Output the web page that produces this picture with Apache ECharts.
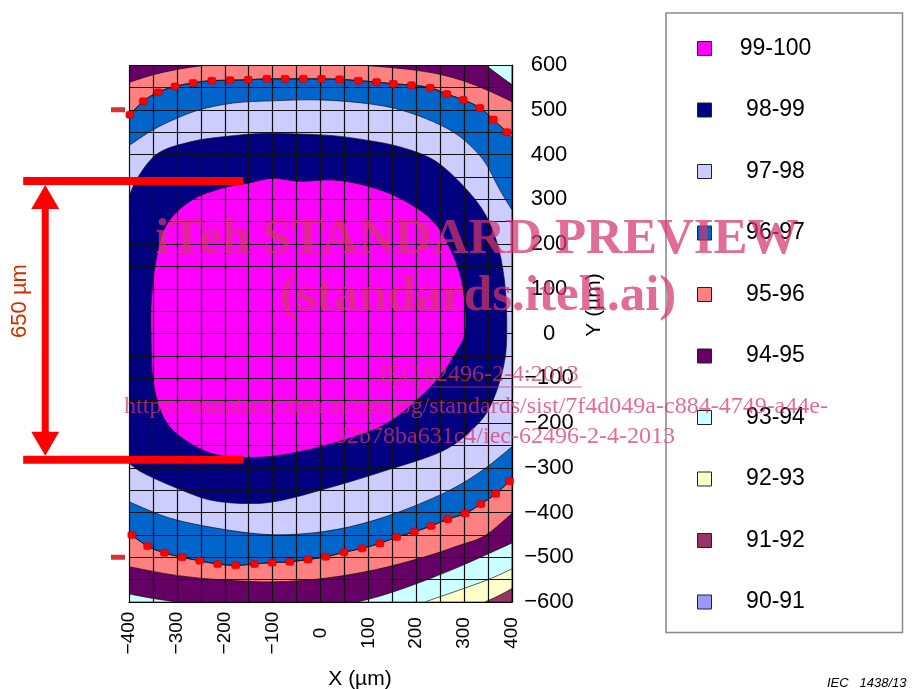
<!DOCTYPE html>
<html><head><meta charset="utf-8">
<script src="https://cdn.jsdelivr.net/npm/echarts@6/dist/echarts.min.js"></script>
<style>html,body{margin:0;padding:0;background:#fff}#c{width:922px;height:689px}</style>
</head><body><div id="c"></div>
<script>
// ---------- data (µm, % levels) ----------
const levels = ['99-100','98-99','97-98','96-97','95-96','94-95','93-94','92-93','91-92','90-91'];
const xTickValues = [-400,-300,-200,-100,0,100,200,300,400];
const yTickValues = [-600,-500,-400,-300,-200,-100,0,100,200,300,400,500,600];

// contour boundaries, [X, Y] in µm
const c92 = [[400,-570],[372,-586],[343,-600]];
const c93 = [[400,-526],[350,-550],[288,-574],[250,-588],[218,-600]];
const c94top = [[345,600],[372,578],[400,556]];
const c94bot = [[400,-468],[345,-495],[288,-522],[235,-545],[183,-566],[130,-585],[78,-600]];
const c94left = [[-300,-600],[-350,-592],[-400,-582]];
const c95a = [[-400,561],[-350,578],[-300,590],[-250,598],[-225,600]];
const c95b = [[80,600],[150,594],[200,588],[250,579],[300,564],[350,543],[400,518]];
const c95c = [[400,-402],[343,-452],[288,-474],[218,-499],[114,-528],[9,-547],[-95,-555],[-200,-551],[-304,-540],[-400,-521]];
const upperDots = [[-398,489],[-370,519],[-339,539],[-304,552],[-266,560],[-227,565],[-189,566],[-151,567],[-112,569],[-74,569],[-36,569],[2,569],[40,568],[79,565],[117,562],[152,558],[190,555],[229,549],[264,535],[298,522],[333,504],[361,478],[389,450]];
const lowerDots = [[-394,-450],[-361,-475],[-326,-490],[-289,-500],[-252,-508],[-215,-515],[-177,-518],[-138,-515],[-101,-512],[-64,-510],[-26,-505],[11,-499],[49,-489],[87,-480],[124,-469],[159,-455],[196,-443],[231,-430],[266,-415],[302,-402],[335,-381],[366,-358],[395,-330]];
const c96top = [[-400,487]].concat(upperDots.slice(1), [[400,437]]);
const c96bot = [[400,-324]].concat(lowerDots.slice(1,-1).reverse(), [[-400,-446]]);
const c97top = [[-400,420],[-350,455],[-300,481],[-252,500],[-182,515],[-99,520],[-2,522],[96,514],[166,500],[236,473],[291,440],[340,388],[375,320],[400,276]];
const c97bot = [[400,-253],[339,-305],[270,-350],[166,-398],[61,-432],[-43,-448],[-147,-446],[-300,-417],[-400,-376]];
const c98 = [[-400,306],[-381,350],[-339,403],[-269,429],[-200,440],[-124,447],[-50,446],[27,442],[96,432],[166,417],[236,388],[298,330],[345,265],[372,190],[386,100],[389,0],[383,-70],[360,-150],[326,-205],[256,-262],[131,-308],[27,-342],[-78,-372],[-147,-380],[-231,-372],[-308,-342],[-370,-312],[-400,-290]];
const c99 = [[-151,336],[-99,347],[-43,340],[27,343],[96,330],[166,302],[236,250],[277,175],[298,100],[303,8],[284,-40],[250,-95],[200,-150],[131,-205],[27,-245],[-78,-271],[-161,-277],[-227,-268],[-283,-238],[-325,-193],[-349,-111],[-354,-7],[-353,82],[-342,172],[-320,246],[-269,298],[-205,325]];
const leftMarks = [[-423,500],[-423,-500]];
// 650 µm dimension: horizontal bars at Y, from X to X, arrow at X
const dimY = [341,-282];
const dimX = [-621,-161];
const dimArrowX = -575;

// ---------- styles ----------
const palette = {'99-100':'#ff00ff','98-99':'#000080','97-98':'#ccccff','96-97':'#0066cc','95-96':'#ff8080','94-95':'#660066','93-94':'#ccffff','92-93':'#ffffcc','91-92':'#993366','90-91':'#9999ff'};
const FONT = "'Liberation Sans', Arial, sans-serif";
const SERIF = "'Liberation Serif', 'Times New Roman', serif";

const TL=[-400,600], TR=[400,600], BR=[400,-600], BL=[-400,-600];
const regions = [
  ['91-92', [[TL],[TR],[BR],[BL]], false],
  ['92-93', [[TL],[TR],c92,[BL]], false],
  ['93-94', [[TL],[TR],c93,[BL]], false],
  ['94-95', [[TL],c94top,c94bot,c94left], false],
  ['95-96', [c95a,c95b,c95c], false],
  ['96-97', [c96top,c96bot], false],
  ['97-98', [c97top,c97bot], false],
  ['98-99', [c98], false],
  ['99-100', [c99], true]
];

function catmull(pts, closed){
  let d=''; const n=pts.length;
  if(n<2) return d;
  const get=i=>closed?pts[(i+n)%n]:pts[Math.max(0,Math.min(n-1,i))];
  const last=closed?n:n-1;
  for(let i=0;i<last;i++){
    const p0=get(i-1),p1=get(i),p2=get(i+1),p3=get(i+2);
    const c1=[p1[0]+(p2[0]-p0[0])/6,p1[1]+(p2[1]-p0[1])/6];
    const c2=[p2[0]-(p3[0]-p1[0])/6,p2[1]-(p3[1]-p1[1])/6];
    d+=' C'+c1[0].toFixed(2)+' '+c1[1].toFixed(2)+' '+c2[0].toFixed(2)+' '+c2[1].toFixed(2)+' '+p2[0].toFixed(2)+' '+p2[1].toFixed(2);
  }
  return d;
}

function regionSeries(name, segs, closed){
  const color = palette[name];
  return {
    type:'custom', name:name, coordinateSystem:'cartesian2d', clip:true, z:2,
    itemStyle:{color:color, borderColor:'#222', borderWidth:1},
    data: segs ? [[0,0]] : [],
    renderItem: function(params, api){
      let d='';
      segs.forEach(function(seg, si){
        const pts = seg.map(p=>api.coord(p));
        d += (si===0?'M':' L')+pts[0][0].toFixed(2)+' '+pts[0][1].toFixed(2);
        d += catmull(pts, closed);
      });
      d += ' Z';
      return {type:'path', shape:{pathData:d}, style:{fill:color, stroke:'rgba(15,15,15,0.75)', lineWidth:0.9}};
    }
  };
}

const series = regions.map(r=>regionSeries(r[0], r[1], r[2]));
series.push(regionSeries('90-91', null, false));
series.push({type:'line', name:'upperDots', data:upperDots, smooth:true, clip:false, z:6, symbol:'roundRect', symbolSize:[8,7],
  itemStyle:{color:'#ff0000', borderColor:'#b00000', borderWidth:0.5}, lineStyle:{color:'#1a1a1a', width:1}});
series.push({type:'line', name:'lowerDots', data:lowerDots, smooth:true, clip:false, z:6, symbol:'roundRect', symbolSize:[8,7],
  itemStyle:{color:'#ff0000', borderColor:'#b00000', borderWidth:0.5}, lineStyle:{color:'#1a1a1a', width:1}});
series.push({type:'scatter', name:'marks', data:leftMarks, clip:false, z:6, symbol:'rect', symbolSize:[14,5], itemStyle:{color:'#cc0000'}});

function fmt(v){ return v<0?'\u2212'+(-v):String(v); }

const chart = echarts.init(document.getElementById('c'), null, {renderer:'canvas'});
chart.setOption({
  animation:false,
  backgroundColor:'#fff',
  grid:{left:129, right:410, top:65, bottom:87, containLabel:false},
  xAxis:{type:'value', min:-400, max:400, interval:50, z:3,
    axisLine:{show:true, onZero:false, lineStyle:{color:'#000', width:1.2}},
    axisTick:{show:false},
    splitLine:{show:true, lineStyle:{color:'#111', width:1.2}},
    axisLabel:{formatter:function(v){return xTickValues.indexOf(v)>=0?fmt(v):'';}, rotate:90, align:'center', verticalAlign:'middle', margin:31, fontSize:19, color:'#000', fontFamily:FONT}
  },
  yAxis:{type:'value', position:'right', min:-600, max:600, interval:50, z:3,
    axisLine:{show:true, onZero:false, lineStyle:{color:'#000', width:1.2}},
    axisTick:{show:false},
    splitLine:{show:true, lineStyle:{color:'#111', width:1.2}},
    axisLabel:{formatter:function(v){return yTickValues.indexOf(v)>=0?fmt(v):'';}, align:'center', margin:37, fontSize:22, color:'#000', fontFamily:FONT}
  },
  legend:{data:levels, orient:'vertical', left:666, top:13, selectedMode:false,
    padding:[24,68,19,31], itemGap:38.5, itemWidth:14, itemHeight:14, icon:'rect',
    borderColor:'#888', borderWidth:1.5, backgroundColor:'#fff',
    itemStyle:{borderColor:'#222', borderWidth:1},
    formatter:function(n){return '{t|'+n+'}';},
    textStyle:{rich:{t:{width:118, align:'center', fontSize:23, lineHeight:24, color:'#000', fontFamily:FONT}}}
  },
  series:series
});

const P = p=>chart.convertToPixel({gridIndex:0}, p);
const yt = P([dimArrowX, dimY[0]]), yb = P([dimArrowX, dimY[1]]);
const l1 = P([dimX[0], dimY[0]]), r1 = P([dimX[1], dimY[0]]);
const l2 = P([dimX[0], dimY[1]]), r2 = P([dimX[1], dimY[1]]);
const ax = yt[0];
const red = '#ff0000';
const wm = 'rgba(214,52,110,0.72)';
chart.setOption({graphic:[
  {type:'line', z:20, shape:{x1:l1[0],y1:l1[1],x2:r1[0],y2:r1[1]}, style:{stroke:red, lineWidth:8}},
  {type:'line', z:20, shape:{x1:l2[0],y1:l2[1],x2:r2[0],y2:r2[1]}, style:{stroke:red, lineWidth:8}},
  {type:'line', z:20, shape:{x1:ax,y1:yt[1]+20,x2:ax,y2:yb[1]-20}, style:{stroke:red, lineWidth:7}},
  {type:'polygon', z:20, shape:{points:[[ax,yt[1]+4],[ax-14,yt[1]+28],[ax+14,yt[1]+28]]}, style:{fill:red}},
  {type:'polygon', z:20, shape:{points:[[ax,yb[1]-4],[ax-14,yb[1]-28],[ax+14,yb[1]-28]]}, style:{fill:red}},
  {type:'text', z:20, x:20, y:301, rotation:Math.PI/2, style:{text:'650 \u00b5m', align:'center', verticalAlign:'middle', fontSize:22, fontFamily:FONT, fill:'#d03000'}},
  {type:'text', z:20, x:360, y:679, style:{text:'X (\u00b5m)', align:'center', verticalAlign:'middle', fontSize:21, fontFamily:FONT, fill:'#000'}},
  {type:'text', z:20, x:594, y:305, rotation:Math.PI/2, style:{text:'Y (\u00b5m)', align:'center', verticalAlign:'middle', fontSize:21, fontFamily:FONT, fill:'#000'}},
  {type:'text', z:20, x:827, y:683, style:{text:'IEC   1438/13', align:'left', verticalAlign:'middle', fontSize:13, fontStyle:'italic', fontFamily:FONT, fill:'#000'}},
  {type:'text', z:30, x:477, y:240, style:{text:'iTeh STANDARD PREVIEW', align:'center', verticalAlign:'middle', fontSize:51, fontWeight:'bold', fontFamily:SERIF, fill:wm}},
  {type:'text', z:30, x:478, y:297, style:{text:'(standards.iteh.ai)', align:'center', verticalAlign:'middle', fontSize:51, fontWeight:'bold', fontFamily:SERIF, fill:wm}},
  {type:'text', z:30, x:479, y:375, style:{text:'IEC 62496-2-4:2013', align:'center', verticalAlign:'middle', fontSize:24, fontFamily:SERIF, fill:wm}},
  {type:'line', z:30, shape:{x1:376,y1:387,x2:582,y2:387}, style:{stroke:wm, lineWidth:1.2}},
  {type:'text', z:30, x:476, y:407, style:{text:'https://standards.iteh.ai/catalog/standards/sist/7f4d049a-c884-4749-a44e-', align:'center', verticalAlign:'middle', fontSize:24, fontFamily:SERIF, fill:wm}},
  {type:'text', z:30, x:505, y:437, style:{text:'52b78ba631c4/iec-62496-2-4-2013', align:'center', verticalAlign:'middle', fontSize:24, fontFamily:SERIF, fill:wm}}
]});
</script></body></html>
